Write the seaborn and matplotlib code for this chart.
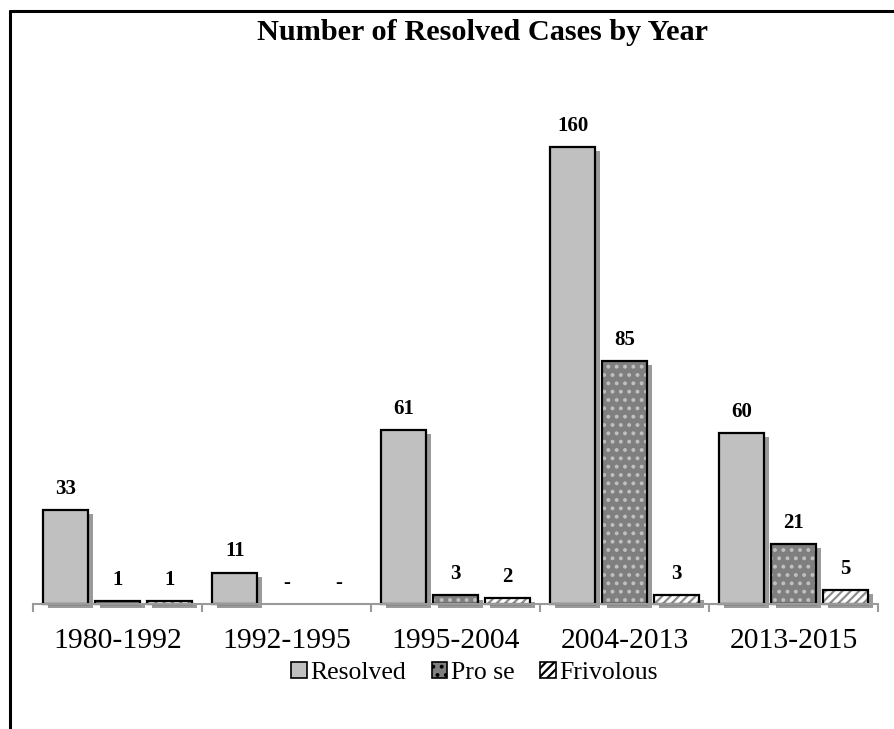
import pandas as pd
import matplotlib.pyplot as plt
import matplotlib.patheffects as pe
from matplotlib.patches import Patch, Rectangle
from matplotlib.lines import Line2D
import seaborn as sns

# data
periods = ['1980-1992', '1992-1995', '1995-2004', '2004-2013', '2013-2015']
series = ['Resolved', 'Pro se', 'Frivolous']
resolved = [33, 11, 61, 160, 60]
pro_se = [1, 0, 3, 85, 21]
frivolous = [1, 0, 2, 3, 5]

df = pd.DataFrame({'Period': periods * 3,
                   'Type': [s for s in series for _ in periods],
                   'Cases': resolved + pro_se + frivolous})

sns.set_style('white')
plt.rcParams['font.family'] = ['Liberation Serif', 'DejaVu Serif']
plt.rcParams['text.color'] = 'black'
plt.rcParams['xtick.color'] = 'black'
plt.rcParams['hatch.linewidth'] = 1.6

face = {'Resolved': '#c0c0c0', 'Pro se': '#7f7f7f', 'Frivolous': 'white'}
hatch = {'Resolved': None, 'Pro se': '..', 'Frivolous': '////'}
hcol = {'Resolved': 'black', 'Pro se': '#c0c0c0', 'Frivolous': '#8c8c8c'}

fig = plt.figure(figsize=(8.94, 7.29), dpi=100)
ax = fig.add_axes([0.037, 0.1715, 0.945, 0.705])
sns.barplot(data=df, x='Period', y='Cases', hue='Type', order=periods,
            hue_order=series, width=0.92, gap=0.13, errorbar=None,
            legend=False, ax=ax)

for cont, s, vals in zip(ax.containers, series, [resolved, pro_se, frivolous]):
    for bar, v in zip(cont, vals):
        bar.set_facecolor(face[s])
        bar.set_hatch(hatch[s])
        bar.set_edgecolor(hcol[s])
        bar.set_linewidth(0)
        bar.set_clip_on(False)
        bar.set_path_effects([pe.SimplePatchShadow(offset=(3.5, -3), shadow_rgbFace='#9a9a9a',
                                                   alpha=1, hatch=None), pe.Normal()])
        if v > 0:
            ax.add_patch(Rectangle(bar.get_xy(), bar.get_width(), bar.get_height(), fill=False,
                                   ec='black', lw=1.6, zorder=bar.get_zorder() + 0.1, clip_on=False))
        ax.annotate(str(v) if v > 0 else '-', (bar.get_x() + bar.get_width() / 2, v),
                    xytext=(0, 8), textcoords='offset points', ha='center', va='bottom',
                    fontsize=15, fontweight='bold', color='black')

ax.set_xlim(-0.5, 4.5)
ax.set_ylim(0, 180)
ax.set_yticks([])
ax.set_xlabel('')
ax.set_ylabel('')
for sp in ['top', 'left', 'right']:
    ax.spines[sp].set_visible(False)
ax.spines['bottom'].set_color('#9a9a9a')
ax.spines['bottom'].set_linewidth(1.5)
ax.set_xticks([i - 0.5 for i in range(len(periods) + 1)], minor=True)
ax.tick_params(axis='x', which='minor', bottom=True, length=6, width=1.5, color='#9a9a9a', direction='out')
ax.tick_params(axis='x', which='major', bottom=True, length=0, pad=17, labelsize=21.3, labelcolor='black')

fig.text(0.54, 0.956, 'Number of Resolved Cases by Year', ha='center', va='center',
         fontsize=21.8, fontweight='bold', color='black')

handles = [Patch(facecolor=face[s], hatch=hatch[s], edgecolor='black', lw=1.2) for s in series]
fig.legend(handles, series, loc='center', bbox_to_anchor=(0.531, 0.077), ncol=3, frameon=False,
           fontsize=18.5, handlelength=0.6, handleheight=0.6, handletextpad=0.15, columnspacing=1.0)

fig.add_artist(Line2D([0.011, 0.011], [0, 0.985], transform=fig.transFigure, color='black', lw=2.2))
fig.add_artist(Line2D([0.011, 1], [0.985, 0.985], transform=fig.transFigure, color='black', lw=2.2))

fig.savefig('out.png', dpi=100)
